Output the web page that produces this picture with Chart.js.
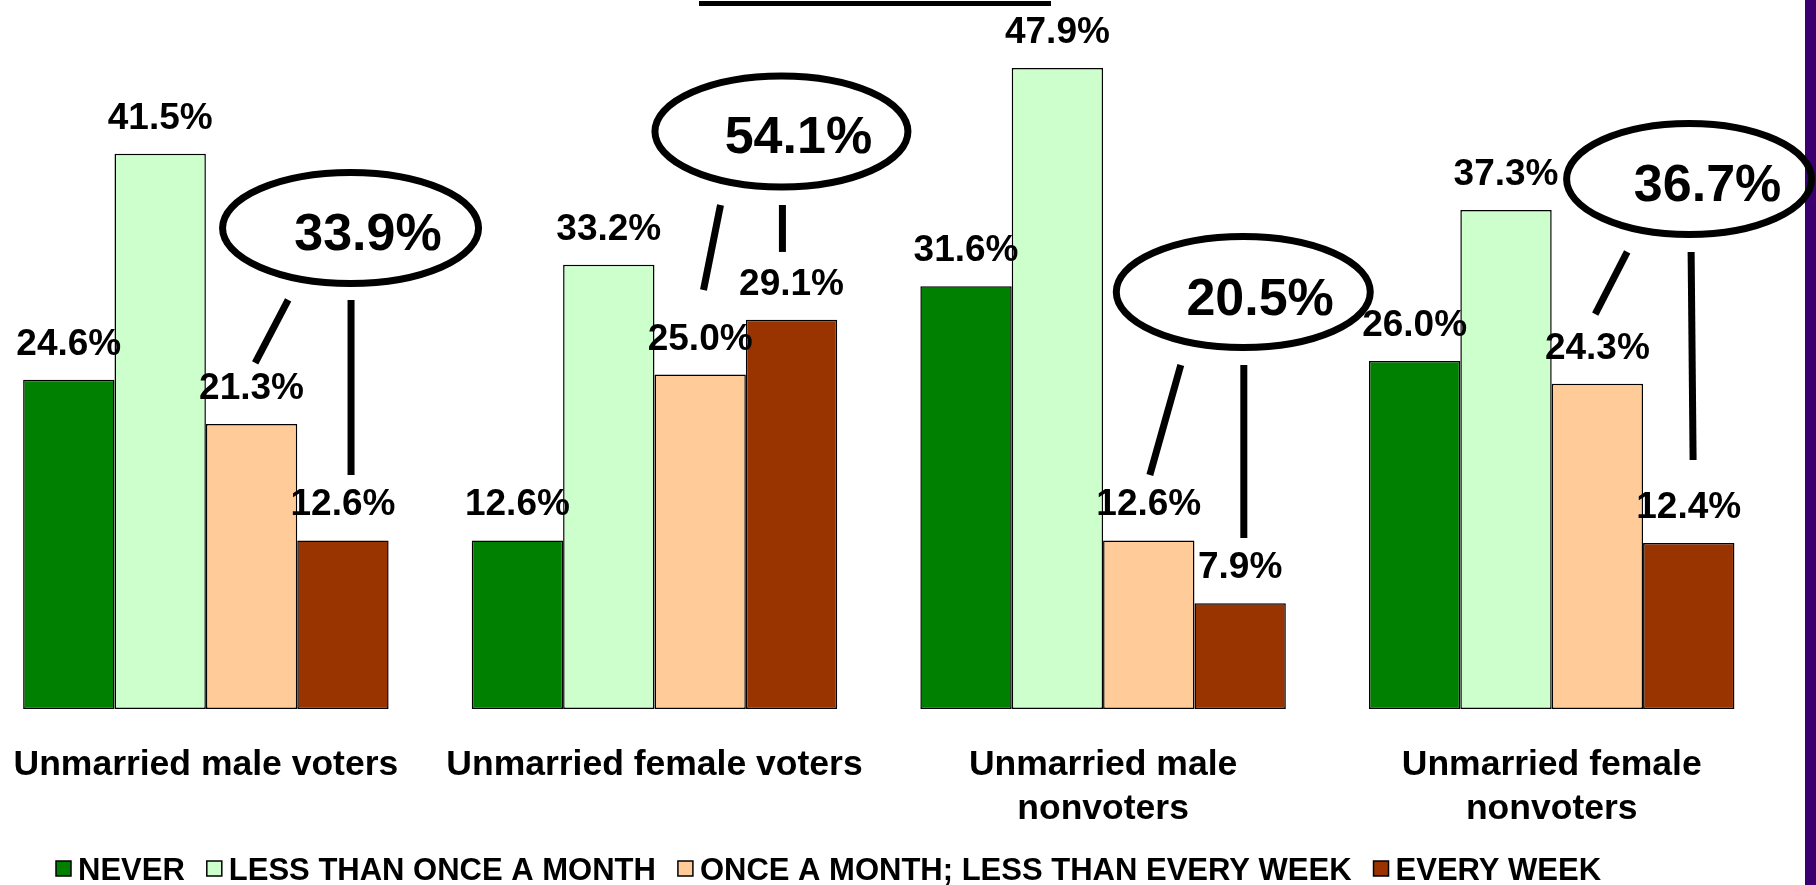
<!DOCTYPE html>
<html>
<head>
<meta charset="utf-8">
<script src="https://cdn.jsdelivr.net/npm/chart.js@4.4.0/dist/chart.umd.min.js"></script>
<style>
  html, body { margin: 0; padding: 0; background: #fff; overflow: hidden; }
  body { width: 1816px; height: 885px; position: relative; }
  #edge { position: absolute; left: 1805px; top: 0; width: 11px; height: 885px; background: #3a006f; }
  #rule { position: absolute; left: 699px; top: 1px; width: 352px; height: 5px; background: #000; }
  #chartFrequency { position: absolute; left: -21px; top: 0; }
</style>
</head>
<body>
<div id="edge"></div>
<div id="rule"></div>
<canvas id="chartFrequency" width="1837" height="885"></canvas>
<script>
const categories = [
    'Unmarried male voters',
    'Unmarried female voters',
    ['Unmarried male', 'nonvoters'],
    ['Unmarried female', 'nonvoters']
];
const seriesNames = ['NEVER', 'LESS THAN ONCE A MONTH', 'ONCE A MONTH; LESS THAN EVERY WEEK', 'EVERY WEEK'];
const never = [24.6, 12.6, 31.6, 26.0];
const lessThanMonthly = [41.5, 33.2, 47.9, 37.3];
const monthlyNotWeekly = [21.3, 25.0, 12.6, 24.3];
const everyWeek = [12.6, 29.1, 7.9, 12.4];
const colors = ['#008000', '#ccffcc', '#ffcc99', '#993300'];

// callouts: [category index, value] anchors, drawn through the scales
const calloutEllipse = [[0.3225, 35.95], [1.283, 43.16], [2.3125, 31.17], [3.3063, 39.61]];
const calloutRx = [128, 126.5, 127, 122.5];
const calloutText = [[0.3614, 35.69], [1.3208, 42.97], [2.35, 30.87], [3.3475, 39.35]];
const calloutSlant = [[0.1834, 30.57, 0.1099, 25.86], [1.1472, 37.67, 1.1093, 31.32], [2.1732, 25.71, 2.1042, 17.49], [3.1683, 34.16, 3.097, 29.52]];
const calloutStem = [[0.3236, 30.57, 0.3236, 17.49], [1.2852, 37.67, 1.2852, 34.16], [2.3137, 25.71, 2.3137, 12.78], [3.3108, 34.16, 3.3152, 18.61]];

const FONT = '"Liberation Sans", Arial, sans-serif';

const barLabels = {
    id: 'barLabels',
    afterDatasetsDraw(chart) {
        const ctx = chart.ctx;
        ctx.save();
        ctx.font = 'bold 37px ' + FONT;
        ctx.fillStyle = '#000';
        ctx.textAlign = 'center';
        ctx.textBaseline = 'alphabetic';
        chart.data.datasets.forEach((ds, i) => {
            chart.getDatasetMeta(i).data.forEach((bar, j) => {
                ctx.fillText(ds.data[j].toFixed(1) + '%', bar.x, bar.y - 25);
            });
        });
        ctx.restore();
    }
};

const callouts = {
    id: 'callouts',
    afterDraw(chart) {
        const ctx = chart.ctx;
        const x = chart.scales.x, y = chart.scales.y;
        const px = v => x.getPixelForValue(v);
        const py = v => y.getPixelForValue(v);
        ctx.save();
        ctx.strokeStyle = '#000';
        ctx.lineWidth = 7;
        ctx.lineCap = 'butt';
        calloutEllipse.forEach((e, i) => {
            ctx.beginPath();
            ctx.ellipse(px(e[0]), py(e[1]), calloutRx[i], 55.5, 0, 0, Math.PI * 2);
            ctx.stroke();
            [calloutSlant[i], calloutStem[i]].forEach(l => {
                ctx.beginPath();
                ctx.moveTo(px(l[0]), py(l[1]));
                ctx.lineTo(px(l[2]), py(l[3]));
                ctx.stroke();
            });
            const total = monthlyNotWeekly[i] + everyWeek[i];
            ctx.font = 'bold 52px ' + FONT;
            ctx.fillStyle = '#000';
            ctx.textAlign = 'center';
            ctx.textBaseline = 'alphabetic';
            ctx.fillText(total.toFixed(1) + '%', px(calloutText[i][0]), py(calloutText[i][1]) + 18.6);
        });
        ctx.restore();
    }
};

const bottomLegend = {
    id: 'bottomLegend',
    afterDraw(chart) {
        const ctx = chart.ctx;
        ctx.save();
        ctx.font = 'bold 31px ' + FONT;
        ctx.textBaseline = 'alphabetic';
        ctx.textAlign = 'left';
        let cx = 77;
        chart.data.datasets.forEach(ds => {
            ctx.fillStyle = ds.backgroundColor;
            ctx.fillRect(cx, 861, 15, 15);
            ctx.lineWidth = 1.5;
            ctx.strokeStyle = '#000';
            ctx.strokeRect(cx, 861, 15, 15);
            ctx.fillStyle = '#000';
            ctx.fillText(ds.label, cx + 22, 880);
            cx += 22 + ctx.measureText(ds.label).width + 22;
        });
        ctx.restore();
    }
};

const seriesValues = [never, lessThanMonthly, monthlyNotWeekly, everyWeek];

const chartFrequency = new Chart(document.getElementById('chartFrequency'), {
    type: 'bar',
    data: {
        labels: categories,
        datasets: seriesValues.map((vals, i) => ({
            label: seriesNames[i],
            data: vals,
            backgroundColor: colors[i],
            borderColor: '#000',
            borderWidth: 1.5,
            borderSkipped: false,
            barPercentage: 1,
            categoryPercentage: 0.8147
        }))
    },
    options: {
        responsive: false,
        animation: false,
        layout: { padding: { top: 40, right: 40, bottom: 0, left: 0 } },
        plugins: {
            legend: { display: false },
            tooltip: { enabled: false }
        },
        scales: {
            x: {
                grid: { display: false, drawTicks: false },
                border: { display: false },
                ticks: {
                    color: '#000',
                    font: { family: FONT, size: 35.5, weight: 'bold', lineHeight: 1.24 },
                    padding: 34.5,
                    maxRotation: 0,
                    autoSkip: false
                },
                afterFit: s => { s.height = 176; }
            },
            y: { display: false, min: 0, max: 50 }
        }
    },
    plugins: [barLabels, callouts, bottomLegend]
});
</script>
</body>
</html>
